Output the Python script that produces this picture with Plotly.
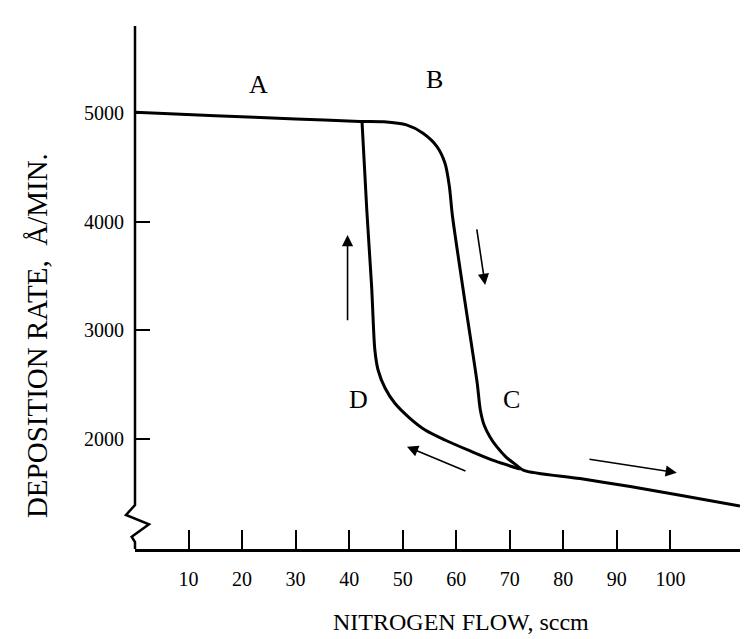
import plotly.graph_objects as go

# ---- data ----
fwd_x = [0, 15, 30, 42, 46.5, 50.7, 53.8, 56.4, 57.9, 58.7, 59.3, 61.7, 63.9,
         64.5, 65.2, 66.3, 67.6, 69.3, 71.2, 72.6, 83.1, 92.5, 101.8, 113]
fwd_y = [5006, 4975, 4945, 4922, 4918, 4890, 4813, 4690, 4537, 4330, 4050, 3240, 2520,
         2267, 2129, 2019, 1927, 1834, 1761, 1712, 1636, 1563, 1482, 1384]

rev_x = [42.4, 43.3, 44.2, 44.8, 45.4, 46.7, 48.5, 51.3, 54.2, 57.9, 62.6, 67.2, 71.9]
rev_y = [4920, 4100, 3400, 2819, 2635, 2469, 2331, 2193, 2083, 1991, 1890, 1798, 1724]

x_ticks = [10, 20, 30, 40, 50, 60, 70, 80, 90, 100]
y_ticks = [2000, 3000, 4000, 5000]

point_labels = ["A", "B", "C", "D"]
label_x = [23, 56, 70.4, 41.7]
label_y = [5258, 5304, 2359, 2359]

# arrows: (tail x, tail y, head x, head y)
arrows = [
    (39.7, 3080, 39.7, 3877),
    (63.8, 3942, 65.4, 3417),
    (62.0, 1699, 50.8, 1929),
    (84.6, 1816, 101.2, 1690),
]

X_RANGE = [0, 113]
Y_RANGE = [988, 5800]

FONT = "Liberation Serif"

fig = go.Figure()
line_style = dict(color="black", width=3, shape="spline", smoothing=0.8)
fig.add_trace(go.Scatter(x=fwd_x, y=fwd_y, mode="lines", line=line_style,
                         hoverinfo="skip", showlegend=False))
fig.add_trace(go.Scatter(x=rev_x, y=rev_y, mode="lines", line=line_style,
                         hoverinfo="skip", showlegend=False))

for t, lx, ly in zip(point_labels, label_x, label_y):
    fig.add_annotation(x=lx, y=ly, text=t, showarrow=False,
                       font=dict(family=FONT, size=26, color="black"))

for tx, ty, hx, hy in arrows:
    fig.add_annotation(x=hx, y=hy, ax=tx, ay=ty, xref="x", yref="y",
                       axref="x", ayref="y", text="", showarrow=True,
                       arrowhead=2, arrowsize=1.4, arrowwidth=1.6,
                       arrowcolor="black")

# y-axis line with break symbol (x in domain fraction, y in data units)
path = ("M 0,{top} L 0,1393 L -0.0149,1301 L 0.0231,1215 "
        "L -0.0055,1101 L 0,1052 L 0,{bot}").format(top=Y_RANGE[1], bot=Y_RANGE[0])
fig.add_shape(type="path", path=path, xref="x domain", yref="y",
              line=dict(color="black", width=2.5))

fig.add_annotation(text="NITROGEN FLOW, sccm", xref="paper", yref="paper",
                   x=0.539, y=-0.14, xanchor="center", yanchor="middle",
                   showarrow=False,
                   font=dict(family=FONT, size=24, color="black"))
fig.add_annotation(text="DEPOSITION RATE,  Å/MIN.", xref="paper", yref="paper",
                   x=-0.162, y=0.409, xanchor="center", yanchor="middle",
                   textangle=-90, showarrow=False,
                   font=dict(family=FONT, size=29, color="black"))

fig.update_layout(
    width=753, height=639,
    margin=dict(l=135, r=13, t=26, b=90),
    paper_bgcolor="white", plot_bgcolor="white",
    font=dict(family=FONT, color="black"),
    xaxis=dict(range=X_RANGE, showgrid=False, zeroline=False,
               showline=True, linecolor="black", linewidth=2.5,
               ticks="inside", ticklen=19, tickwidth=2, tickcolor="black",
               tickvals=x_ticks, ticktext=[str(v) for v in x_ticks],
               tickfont=dict(family=FONT, size=20), ticklabelstandoff=10),
    yaxis=dict(range=Y_RANGE, showgrid=False, zeroline=False, showline=False,
               ticks="inside", ticklen=15, tickwidth=2, tickcolor="black",
               tickvals=y_ticks, ticktext=[str(v) for v in y_ticks],
               tickfont=dict(family=FONT, size=20), ticklabelstandoff=10),
)

fig.write_html("out.html")
